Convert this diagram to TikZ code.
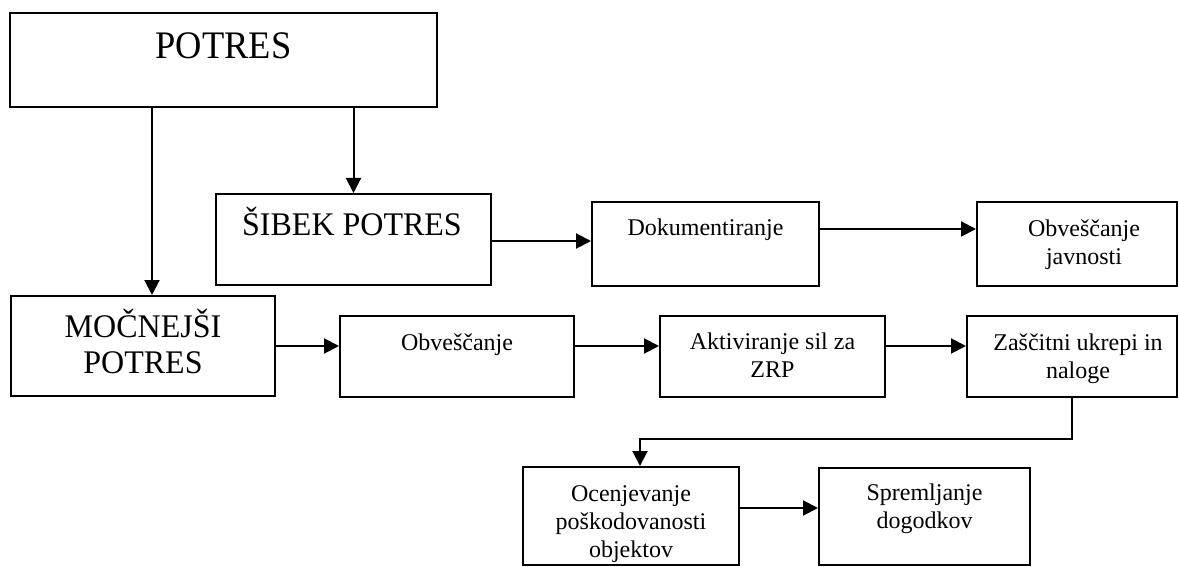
\documentclass[tikz,border=0pt]{standalone}
\usepackage{fontspec}
\setmainfont{Liberation Serif}
\usetikzlibrary{arrows.meta}
\begin{document}
\begin{tikzpicture}[x=1pt,y=-1pt,
  box/.style={draw, line width=2pt, inner sep=0pt},
  lbl/.style={inner sep=0pt, anchor=base, align=center},
  huge/.style={font=\fontsize{39}{43}\selectfont\addfontfeature{FakeStretch=0.935}},
  big/.style={font=\fontsize{33}{36}\selectfont\addfontfeature{FakeStretch=0.97}},
  small/.style={font=\fontsize{24}{28}\selectfont},
  arr/.style={line width=2pt, -{Triangle[length=15pt,width=15pt]}}]
\useasboundingbox (0,0) rectangle (1179,567);
% boxes
\node[box, minimum width=427pt, minimum height=94pt] (potres) at (223.5,60) {};
\node[box, minimum width=275pt, minimum height=91pt] (sibek) at (353.5,239.5) {};
\node[box, minimum width=227pt, minimum height=84pt] (dok) at (705.5,244) {};
\node[box, minimum width=200pt, minimum height=84pt] (obvj) at (1077,244) {};
\node[box, minimum width=264pt, minimum height=100pt] (moc) at (143,346) {};
\node[box, minimum width=234pt, minimum height=81pt] (obv) at (457,356.5) {};
\node[box, minimum width=225pt, minimum height=81pt] (akt) at (772.5,356.5) {};
\node[box, minimum width=210pt, minimum height=81pt] (zas) at (1072,356.5) {};
\node[box, minimum width=216pt, minimum height=98pt] (ocen) at (631,516) {};
\node[box, minimum width=211pt, minimum height=97pt] (sprem) at (924.5,516.5) {};
% texts (base anchor = baseline of the last line)
\node[lbl, huge] (potres-t) at (223.5,59) {POTRES};
\node[lbl, big] (sibek-t) at (352,235) {ŠIBEK POTRES};
\node[lbl, small] (dok-t) at (705.5,236) {Dokumentiranje};
\node[lbl, small] (obvj-t) at (1084,264) {Obveščanje\\javnosti};
\node[lbl, big] (moc-t) at (143,373) {MOČNEJŠI\\POTRES};
\node[lbl, small] (obv-t) at (457,350) {Obveščanje};
\node[lbl, small] (akt-t) at (772.5,377) {Aktiviranje sil za\\ZRP};
\node[lbl, small] (zas-t) at (1078,378) {Zaščitni ukrepi in\\naloge};
\node[lbl, small] (ocen-t) at (631,557) {Ocenjevanje\\poškodovanosti\\objektov};
\node[lbl, small] (sprem-t) at (924.5,528) {Spremljanje\\dogodkov};
% connectors
\draw[arr] ([xshift=9pt]moc.north |- potres.south) -- ([xshift=9pt]moc.north);
\draw[arr] (sibek.north |- potres.south) -- (sibek.north);
\draw[arr] ([yshift=-1.5pt]sibek.east) -- ([yshift=-1.5pt]sibek.east -| dok.west);
\draw[arr] ([yshift=15pt]dok.east) -- ([yshift=15pt]dok.east -| obvj.west);
\draw[arr] (moc.east) -- (moc.east -| obv.west);
\draw[arr] ([yshift=10.5pt]obv.east) -- ([yshift=10.5pt]obv.east -| akt.west);
\draw[arr] ([yshift=10.5pt]akt.east) -- ([yshift=10.5pt]akt.east -| zas.west);
\draw[arr] (zas.south) -- ++(0,41) -| ([xshift=9pt]ocen.north);
\draw[arr] ([yshift=8pt]ocen.east) -- ([yshift=8pt]ocen.east -| sprem.west);
\end{tikzpicture}
\end{document}
